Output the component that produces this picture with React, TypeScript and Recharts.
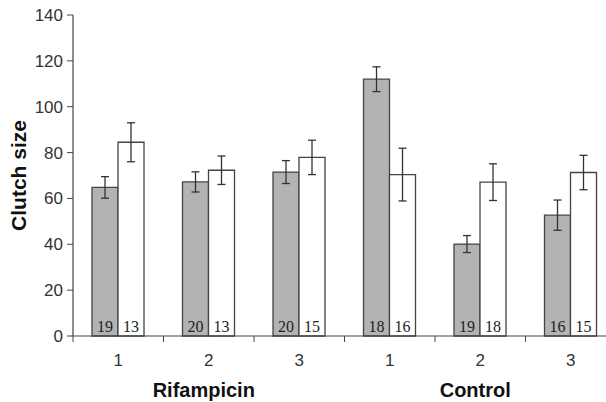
import { BarChart, Bar, XAxis, YAxis, ErrorBar, LabelList } from "recharts";

const categories = ["1", "2", "3", "1", "2", "3"];
const groups = ["Rifampicin", "Rifampicin", "Rifampicin", "Control", "Control", "Control"];
const grayMeans = [64.8, 67.2, 71.5, 112, 40.1, 52.7];
const grayErr = [4.7, 4.4, 5.0, 5.4, 3.7, 6.6];
const grayN = [19, 20, 20, 18, 19, 16];
const whiteMeans = [84.5, 72.3, 77.9, 70.4, 67.1, 71.3];
const whiteErr = [8.5, 6.2, 7.5, 11.5, 8.0, 7.5];
const whiteN = [13, 13, 15, 16, 18, 15];
const yTicks = [0, 20, 40, 60, 80, 100, 120, 140];

const data = categories.map((cat, i) => ({
  cat,
  group: groups[i],
  gray: grayMeans[i],
  grayErr: grayErr[i],
  grayN: grayN[i],
  white: whiteMeans[i],
  whiteErr: whiteErr[i],
  whiteN: whiteN[i],
}));

const SANS = "Arial, 'Liberation Sans', sans-serif";
const SERIF = "'Times New Roman', 'Liberation Serif', serif";
const AXIS = "#444";

// tick mark sits on the boundary between categories, label in the middle
function CatTick(props: any) {
  const { x, y, payload } = props;
  const half = payload?.offset ?? 45.25;
  return (
    <g>
      <line x1={x - half} y1={y - 8} x2={x - half} y2={y - 2} stroke={AXIS} strokeWidth={1} />
      <text x={x} y={y + 22} textAnchor="middle" fontFamily={SANS} fontSize={17} fill="#333">
        {payload.value}
      </text>
    </g>
  );
}

function GroupTick(props: any) {
  const { x, y, payload, index } = props;
  if (index % 3 !== 1) return null;
  return (
    <text x={x - 5} y={y + 23} textAnchor="middle" fontFamily={SANS} fontSize={20} fontWeight="bold" fill="#111">
      {payload.value}
    </text>
  );
}

function CountLabel(props: any) {
  const { x, y, width, height, value } = props;
  return (
    <text
      x={x + width / 2}
      y={y + height - 4}
      textAnchor="middle"
      fontFamily={SERIF}
      fontSize={16}
      fill="#222"
    >
      {value}
    </text>
  );
}

export default function App() {
  return (
    <div style={{ position: "absolute", left: 0, top: 0, width: 606, height: 402, overflow: "hidden", background: "#fff" }}>
      <BarChart
        width={620}
        height={402}
        data={data}
        margin={{ top: 15, right: 4, left: 13, bottom: 6 }}
        barCategoryGap="21%"
        barGap={0}
      >
        <XAxis
          dataKey="cat"
          tick={<CatTick />}
          tickLine={false}
          axisLine={{ stroke: AXIS, strokeWidth: 1.2 }}
          height={30}
          interval={0}
        />
        <XAxis
          xAxisId="group"
          dataKey="group"
          tick={<GroupTick />}
          tickLine={false}
          axisLine={false}
          height={30}
          interval={0}
        />
        <YAxis
          domain={[0, 140]}
          ticks={yTicks}
          width={60}
          tickSize={6}
          tickMargin={4}
          tickLine={{ stroke: AXIS }}
          axisLine={{ stroke: AXIS, strokeWidth: 1.2 }}
          tick={{ fontFamily: SANS, fontSize: 17, fill: "#333" }}
          label={{
            value: "Clutch size",
            content: (p: any) => {
              const vb = p.viewBox;
              const cx = vb.x + 5;
              const cy = vb.y + vb.height / 2;
              return (
                <text
                  transform={`translate(${cx},${cy}) rotate(-90)`}
                  textAnchor="middle"
                  dominantBaseline="central"
                  fontFamily={SANS}
                  fontSize={21}
                  fontWeight="bold"
                  fill="#111"
                >
                  Clutch size
                </text>
              );
            },
          }}
        />
        <Bar dataKey="gray" fill="#b3b3b3" stroke="#444" strokeWidth={1.3} isAnimationActive={false}>
          <ErrorBar dataKey="grayErr" width={4} stroke="#333" strokeWidth={1.3} />
          <LabelList dataKey="grayN" content={<CountLabel />} />
        </Bar>
        <Bar dataKey="white" fill="#fff" stroke="#444" strokeWidth={1.3} isAnimationActive={false}>
          <ErrorBar dataKey="whiteErr" width={4} stroke="#333" strokeWidth={1.3} />
          <LabelList dataKey="whiteN" content={<CountLabel />} />
        </Bar>
      </BarChart>
    </div>
  );
}
